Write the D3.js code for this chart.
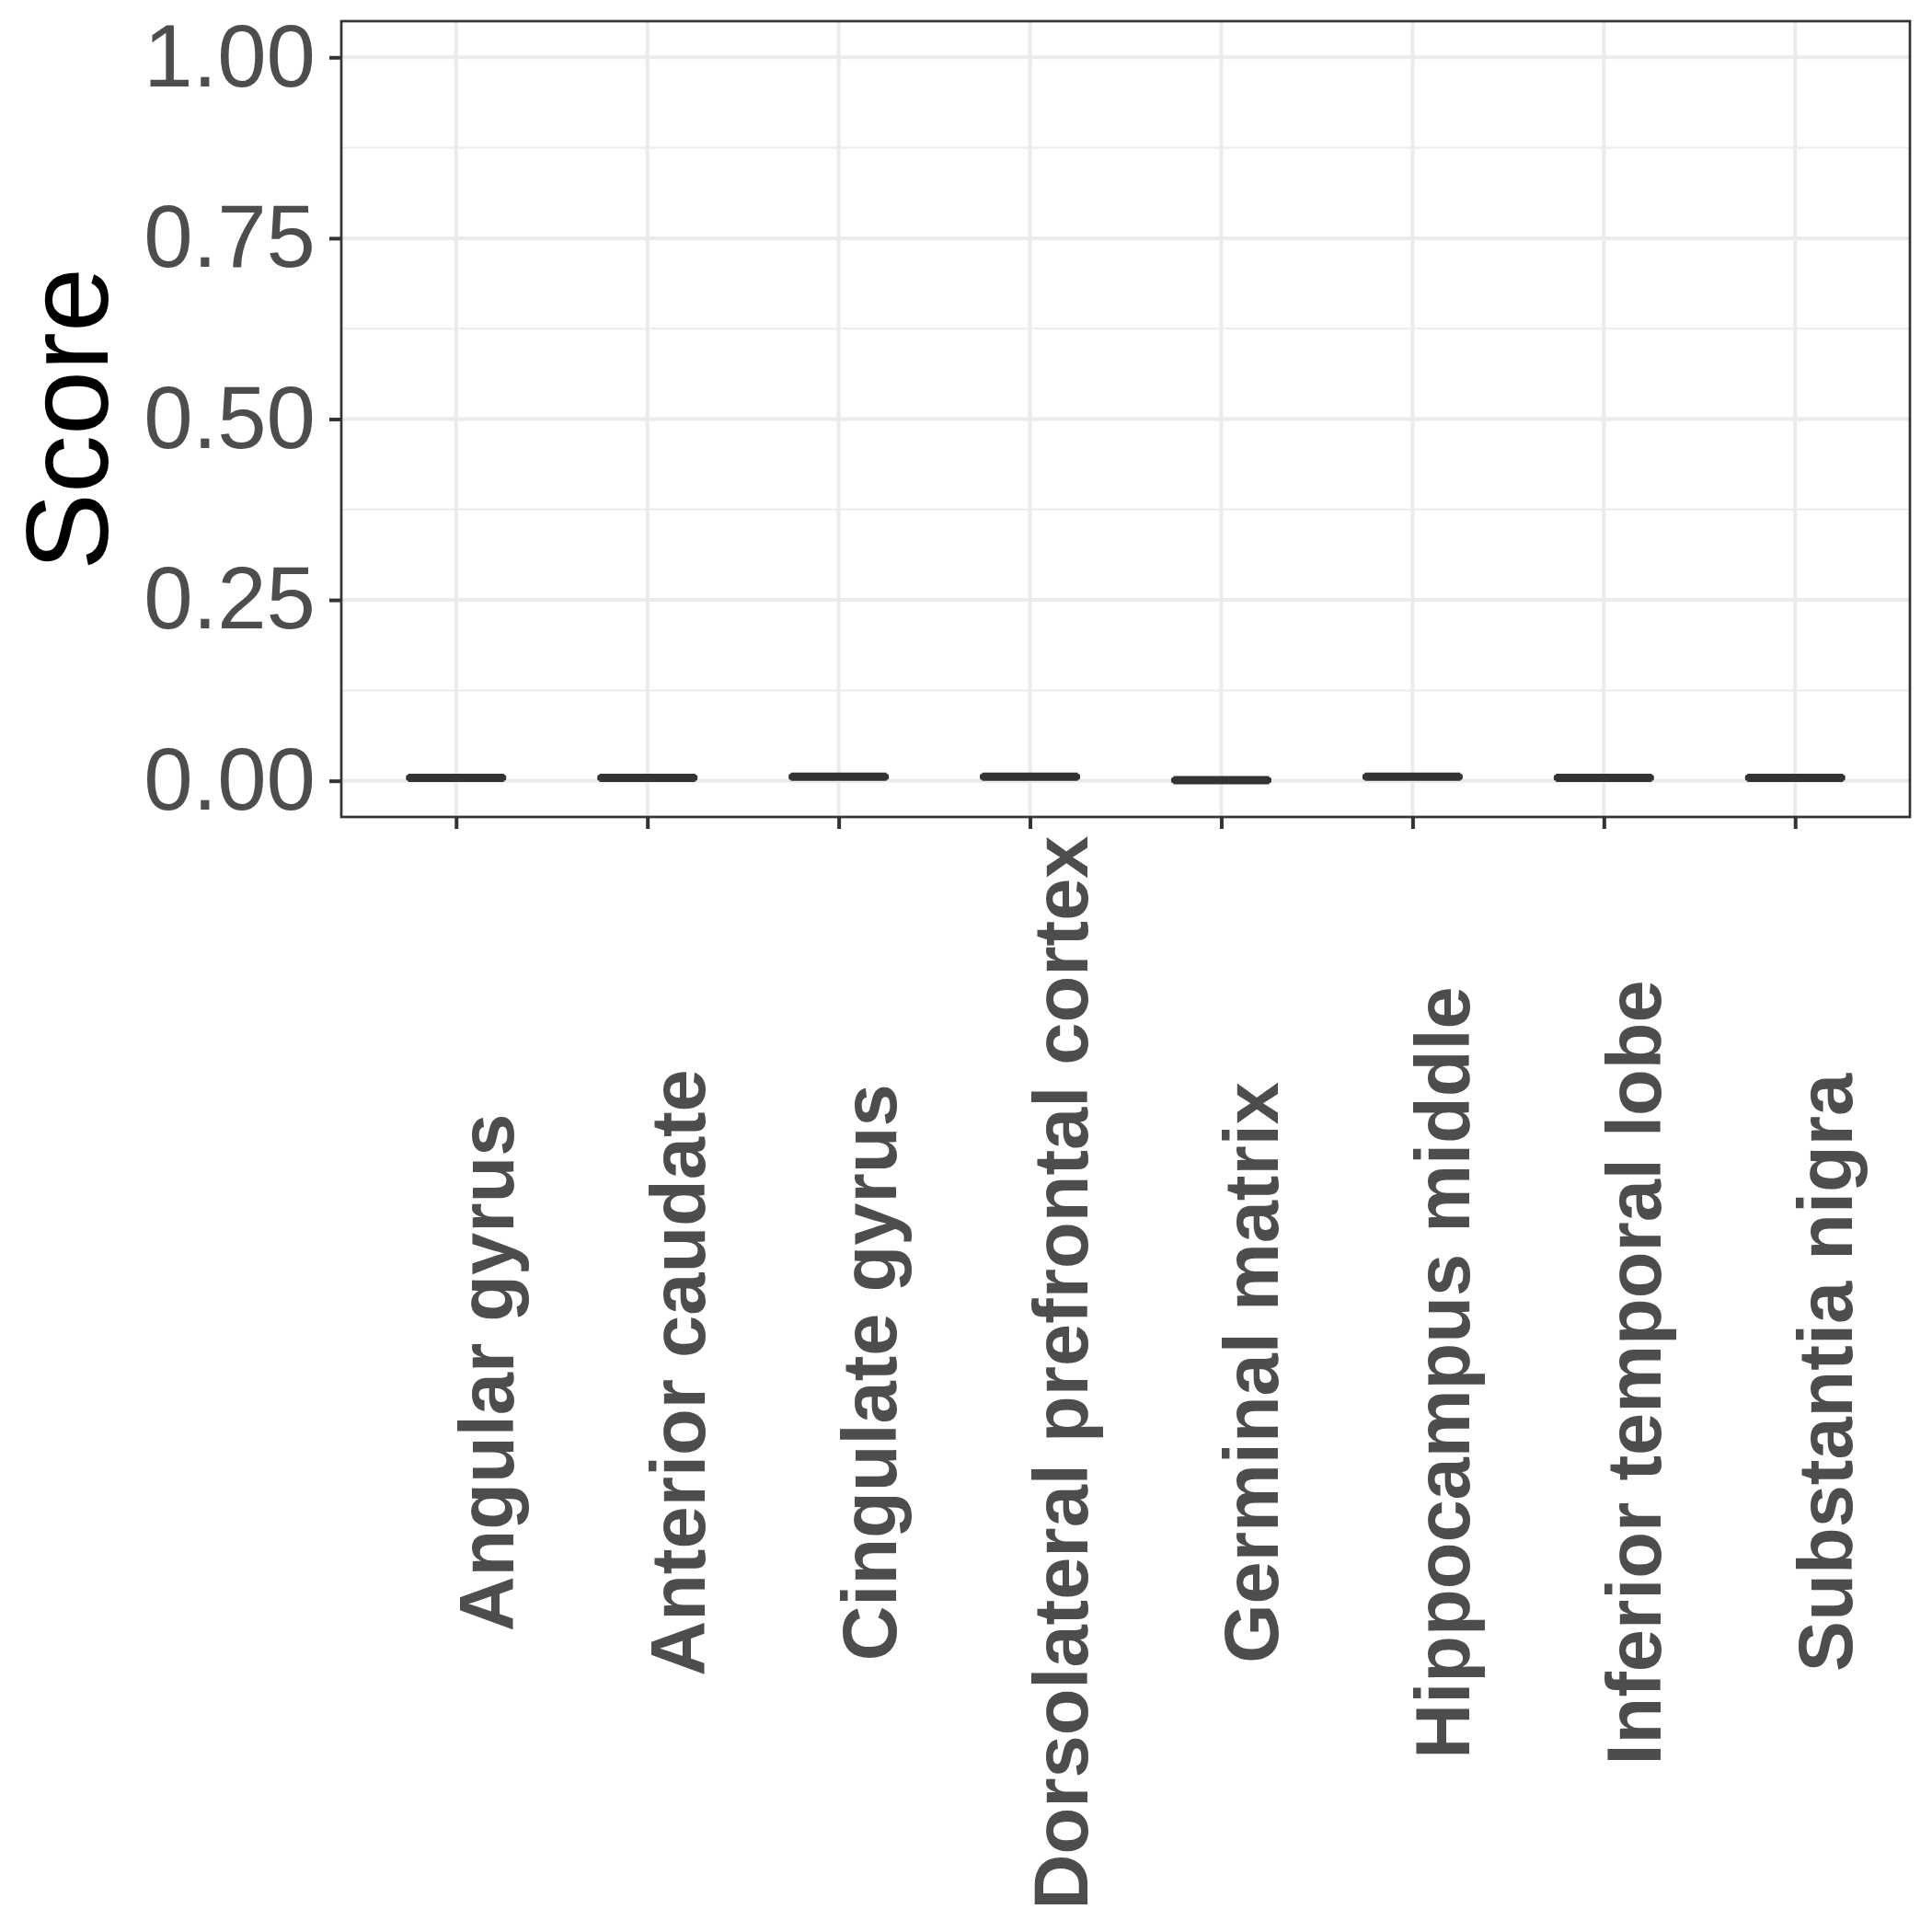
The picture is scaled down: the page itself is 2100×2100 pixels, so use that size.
<!DOCTYPE html>
<html lang="en">
<head>
    <meta charset="UTF-8">
    <title>Score by region</title>
    <style>
        body { margin: 0; background: #fff; }
        text { font-family: "Liberation Sans", Arial, Helvetica, sans-serif; }
    </style>
</head>
<body>
<div id="container"></div>
<script src="https://cdn.jsdelivr.net/npm/d3@7"></script>
<script>
    // data
    const regions = ['Angular gyrus', 'Anterior caudate', 'Cingulate gyrus', 'Dorsolateral prefrontal cortex',
        'Germinal matrix', 'Hippocampus middle', 'Inferior temporal lobe', 'Substantia nigra']
    const q1 = [0.0032, 0.0032, 0.0045, 0.0045, 0.0000, 0.0045, 0.0032, 0.0032]
    const medians = [0.0042, 0.0042, 0.0055, 0.0055, 0.0009, 0.0056, 0.0042, 0.0042]
    const q3 = [0.0052, 0.0052, 0.0065, 0.0065, 0.0018, 0.0066, 0.0052, 0.0052]
    const yTicks = [0, 0.25, 0.5, 0.75, 1]
    const yMinor = [0.125, 0.375, 0.625, 0.875]

    const width = 2100
    const height = 2100
    const panel = {left: 371, top: 23, right: 2076, bottom: 888}

    const gridColor = '#ebebeb'
    const darkColor = '#333333'
    const labelColor = '#4d4d4d'

    const svg = d3.select('#container').append('svg')
        .attr('width', width)
        .attr('height', height)

    const x = d3.scalePoint()
        .domain(regions)
        .range([panel.left, panel.right])
        .padding(0.6)
    const step = x.step()

    const y = d3.scaleLinear()
        .domain([-0.05, 1.05])
        .range([panel.bottom, panel.top])

    /* grid */

    const grid = svg.append('g').attr('id', 'grid')
    grid.selectAll('line.minor')
        .data(yMinor)
        .enter()
        .append('line')
        .attr('x1', panel.left).attr('x2', panel.right)
        .attr('y1', d => y(d)).attr('y2', d => y(d))
        .attr('stroke', gridColor)
        .attr('stroke-width', 2)
    grid.selectAll('line.ymajor')
        .data(yTicks)
        .enter()
        .append('line')
        .attr('x1', panel.left).attr('x2', panel.right)
        .attr('y1', d => y(d)).attr('y2', d => y(d))
        .attr('stroke', gridColor)
        .attr('stroke-width', 4)
    grid.selectAll('line.xmajor')
        .data(regions)
        .enter()
        .append('line')
        .attr('x1', d => x(d)).attr('x2', d => x(d))
        .attr('y1', panel.top).attr('y2', panel.bottom)
        .attr('stroke', gridColor)
        .attr('stroke-width', 4)

    /* boxes (collapsed near zero) */

    const boxWidth = step * 0.5
    const boxes = svg.append('g').attr('id', 'boxes')
        .selectAll('g')
        .data(regions)
        .enter()
        .append('g')

    boxes.append('rect')
        .attr('x', d => x(d) - boxWidth / 2)
        .attr('y', (d, i) => y(q3[i]))
        .attr('width', boxWidth)
        .attr('height', (d, i) => y(q1[i]) - y(q3[i]))
        .attr('fill', '#fff')
        .attr('stroke', darkColor)
        .attr('stroke-width', 5)
        .attr('stroke-linejoin', 'round')

    boxes.append('line')
        .attr('x1', d => x(d) - boxWidth / 2)
        .attr('x2', d => x(d) + boxWidth / 2)
        .attr('y1', (d, i) => y(medians[i]))
        .attr('y2', (d, i) => y(medians[i]))
        .attr('stroke', darkColor)
        .attr('stroke-width', 9)

    /* panel border */

    svg.append('rect')
        .attr('x', panel.left)
        .attr('y', panel.top)
        .attr('width', panel.right - panel.left)
        .attr('height', panel.bottom - panel.top)
        .attr('fill', 'none')
        .attr('stroke', darkColor)
        .attr('stroke-width', 2.7)

    /* axes */

    const yAxis = svg.append('g')
        .attr('transform', `translate(${panel.left},0)`)
        .call(d3.axisLeft(y).tickValues(yTicks).tickFormat(d3.format('.2f')).tickSize(13).tickPadding(15))
    yAxis.select('.domain').remove()
    yAxis.selectAll('.tick line').attr('stroke', darkColor).attr('stroke-width', 4)
    yAxis.selectAll('.tick text')
        .attr('fill', labelColor)
        .attr('font-size', '96px')
        .attr('font-family', '"Liberation Sans", Arial, sans-serif')

    const xAxis = svg.append('g')
        .attr('transform', `translate(0,${panel.bottom})`)
        .call(d3.axisBottom(x).tickSize(13).tickFormat(''))
    xAxis.select('.domain').remove()
    xAxis.selectAll('.tick line').attr('stroke', darkColor).attr('stroke-width', 4)

    svg.append('g')
        .attr('id', 'x-labels')
        .selectAll('text')
        .data(regions)
        .enter()
        .append('text')
        .attr('transform', d => `translate(${x(d) + 62},1492) rotate(-90)`)
        .attr('text-anchor', 'middle')
        .attr('font-size', '83px')
        .attr('font-weight', 'bold')
        .attr('fill', labelColor)
        .text(d => d)

    svg.append('text')
        .attr('transform', `translate(117,${(panel.top + panel.bottom) / 2}) rotate(-90)`)
        .attr('text-anchor', 'middle')
        .attr('font-size', '126px')
        .attr('fill', '#000')
        .text('Score')
</script>
</body>
</html>
